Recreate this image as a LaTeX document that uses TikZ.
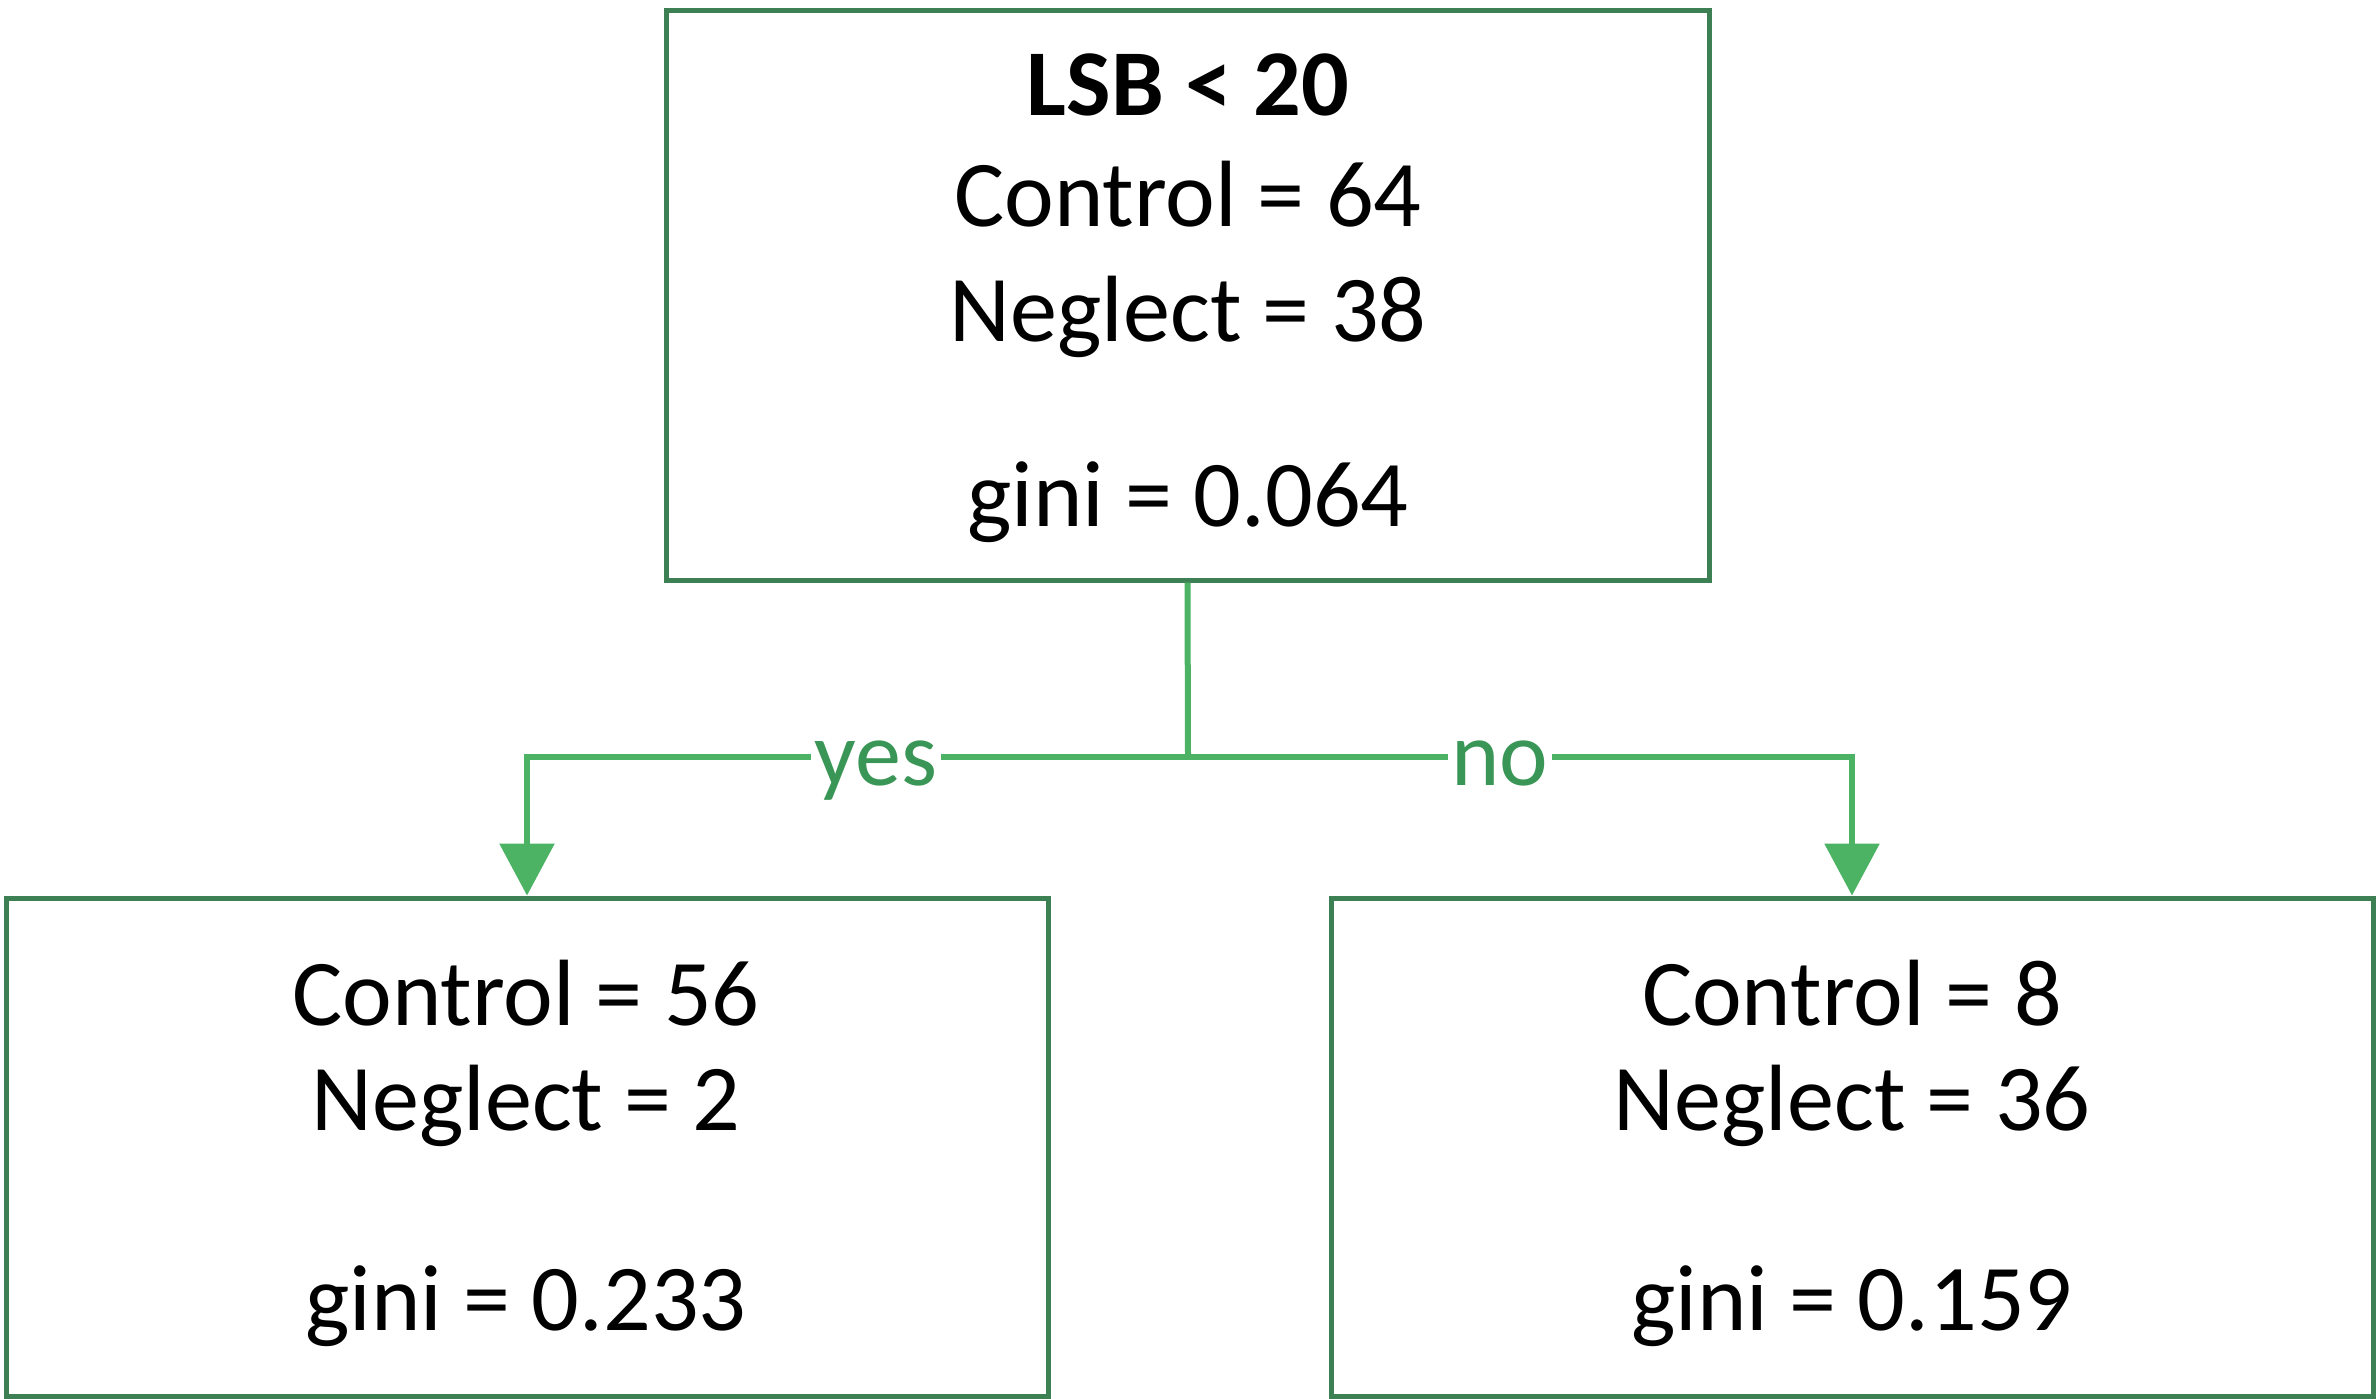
\documentclass[tikz,border=0pt]{standalone}
\usepackage{fontspec}
\setmainfont{Carlito}
\usetikzlibrary{arrows.meta}
\definecolor{boxgreen}{RGB}{60,128,84}
\definecolor{linegreen}{RGB}{76,178,100}
\definecolor{labgreen}{RGB}{58,150,86}
\begin{document}
\begin{tikzpicture}[x=0.1mm,y=-0.1mm,
  treebox/.style={draw=boxgreen, line width=0.5mm, inner sep=0pt},
  txt/.style={anchor=base, inner sep=0pt, font=\fontsize{26.8pt}{31pt}\selectfont, text=black},
  lab/.style={anchor=base, inner sep=0.35mm, fill=white, font=\fontsize{26.2pt}{31pt}\selectfont, text=labgreen},
  conn/.style={draw=linegreen, line width=0.6mm},
  tip/.style={-{Triangle[width=5.4mm,length=5.2mm]}}]
\useasboundingbox (0,0) rectangle (2379,1398);
% boxes
\node[treebox, minimum width=104.3mm, minimum height=57mm] (root) at (1187.5,295) {};
\node[treebox, minimum width=104.2mm, minimum height=49.8mm] (left) at (527,1147) {};
\node[treebox, minimum width=104.2mm, minimum height=49.8mm] (right) at (1852,1147) {};
% texts
\node[txt] (rootA) at (1188,115) {\textbf{LSB < 20}};
\node[txt] (rootB) at (1188,226) {Control = 64};
\node[txt] (rootC) at (1188,341) {Neglect = 38};
\node[txt] (rootD) at (1188,526) {gini = 0.064};
\node[txt] (leftA) at (526,1025) {Control = 56};
\node[txt] (leftB) at (526,1130) {Neglect = 2};
\node[txt] (leftC) at (526,1330) {gini = 0.233};
\node[txt] (rightA) at (1852,1025) {Control = 8};
\node[txt] (rightB) at (1852,1130) {Neglect = 36};
\node[txt] (rightC) at (1852,1330) {gini = 0.159};
% connectors
\coordinate (split) at (1188,757);
\draw[conn] (root.south) -- (split);
\draw[conn, tip] (split) -| (left.north);
\draw[conn, tip] (split) -| (right.north);
\node[lab] (yes) at (876,785) {yes};
\node[lab] (no) at (1500,785) {no};
\end{tikzpicture}
\end{document}
